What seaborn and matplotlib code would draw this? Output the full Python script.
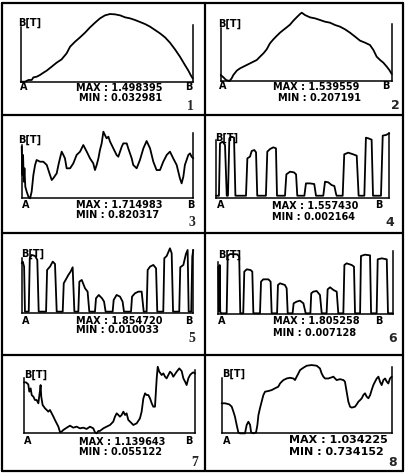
import numpy as np
import matplotlib
matplotlib.use("Agg")
import matplotlib.pyplot as plt
import seaborn as sns
from matplotlib.lines import Line2D

sns.set_style("white")
plt.rcParams["font.family"] = ["DejaVu Sans"]

# ---------------- data: position along A-B (%) and flux density B [T] ----------------
b_max = [1.498395, 1.539559, 1.714983, 1.557430, 1.854720, 1.805258, 1.139643, 1.034225]
b_min = [0.032981, 0.207191, 0.820317, 0.002164, 0.010033, 0.007128, 0.055122, 0.734152]
max_labels = ["MAX : 1.498395", "MAX : 1.539559", "MAX : 1.714983", "MAX : 1.557430",
              "MAX : 1.854720", "MAX : 1.805258", "MAX : 1.139643", "MAX : 1.034225"]
min_labels = ["MIN : 0.032981", "MIN : 0.207191", "MIN : 0.820317", "MIN : 0.002164",
              "MIN : 0.010033", "MIN : 0.007128", "MIN : 0.055122", "MIN : 0.734152"]
panel_numbers = ["1", "2", "3", "4", "5", "6", "7", "8"]

pos1 = [0, 2.5, 4.5, 6.4, 7.4, 9.3, 11.2, 13.2, 15.1, 18.0, 20.9, 23.8, 26.7, 28.7, 31.6, 34.5,
        37.4, 40.3, 43.2, 46.1, 49.0, 51.9, 54.8, 57.8, 60.7, 63.6, 66.5, 69.4, 72.3, 75.2, 78.1,
        81.0, 83.9, 86.8, 89.7, 92.6, 95.5, 97.5, 98.8, 100]
b1 = [0.033, 0.033, 0.070, 0.070, 0.127, 0.141, 0.178, 0.228, 0.272, 0.358, 0.445, 0.517, 0.647,
      0.790, 0.899, 0.993, 1.094, 1.209, 1.310, 1.404, 1.469, 1.498, 1.491, 1.469, 1.426, 1.404,
      1.368, 1.325, 1.281, 1.224, 1.152, 1.079, 0.993, 0.877, 0.733, 0.574, 0.393, 0.272, 0.178,
      0.105]

pos2 = [0, 1.6, 3.1, 5.1, 6.4, 7.4, 9.4, 11.3, 13.3, 15.2, 17.2, 19.1, 21.1, 23.0, 25.0, 26.9,
        28.8, 30.8, 32.7, 34.7, 36.6, 38.6, 40.5, 42.5, 44.4, 46.4, 47.4, 49.3, 52.2, 55.2, 58.1,
        61.0, 63.9, 66.9, 69.8, 72.7, 75.6, 78.6, 81.5, 84.4, 87.3, 89.3, 91.2, 93.2, 95.1, 97.1,
        98.6, 100]
b2 = [0.324, 0.279, 0.227, 0.207, 0.259, 0.324, 0.409, 0.454, 0.487, 0.519, 0.552, 0.584, 0.617,
      0.682, 0.747, 0.825, 0.942, 1.020, 1.085, 1.150, 1.202, 1.254, 1.306, 1.384, 1.449, 1.514,
      1.540, 1.494, 1.449, 1.429, 1.397, 1.364, 1.345, 1.299, 1.267, 1.215, 1.150, 1.072, 0.994,
      0.955, 0.909, 0.812, 0.682, 0.617, 0.565, 0.487, 0.422, 0.344]

pos3 = [0, 0.4, 0.8, 1.2, 1.6, 2.1, 2.9, 3.9, 4.9, 5.8, 6.8, 7.8, 8.7, 10.7, 12.6, 14.6, 16.5,
        17.5, 18.4, 20.4, 21.4, 22.3, 23.3, 24.3, 25.2, 26.2, 28.2, 30.1, 32.0, 34.0, 35.9, 36.9,
        37.9, 39.8, 41.7, 42.7, 43.7, 44.7, 45.6, 46.6, 47.6, 48.5, 49.5, 50.5, 51.5, 53.4, 55.3,
        56.3, 57.3, 58.3, 59.2, 61.2, 62.1, 64.1, 65.0, 67.0, 68.9, 70.9, 72.8, 74.8, 76.7, 78.6,
        80.6, 82.5, 84.5, 86.4, 88.3, 90.3, 92.2, 93.2, 94.2, 95.1, 97.1, 98.1, 99.0, 100]
b3 = [1.514, 1.133, 1.402, 1.044, 1.223, 0.977, 0.910, 0.842, 0.820, 0.910, 1.133, 1.268, 1.335,
      1.312, 1.312, 1.268, 1.133, 1.066, 1.089, 1.156, 1.268, 1.357, 1.447, 1.402, 1.357, 1.223,
      1.223, 1.290, 1.402, 1.447, 1.536, 1.491, 1.447, 1.357, 1.290, 1.200, 1.268, 1.357, 1.469,
      1.558, 1.715, 1.670, 1.626, 1.648, 1.581, 1.491, 1.402, 1.379, 1.447, 1.514, 1.558, 1.558,
      1.491, 1.357, 1.268, 1.223, 1.335, 1.491, 1.590, 1.491, 1.312, 1.200, 1.200, 1.312, 1.402,
      1.447, 1.357, 1.268, 1.089, 1.021, 1.111, 1.268, 1.402, 1.424, 1.379, 1.357]

pos4 = [0, 1.7, 2.3, 3.8, 5.2, 6.2, 6.9, 7.7, 9.0, 10.4, 11.2,
        17.3, 18.1, 19.6, 20.6, 22.1, 23.1, 23.8,
        28.8, 29.6, 31.2, 33.1, 34.6, 35.2,
        39.8, 40.6, 42.7, 45.0, 46.2, 46.9,
        51.0, 51.9, 54.2, 56.7, 57.7,
        61.9, 62.9, 64.8, 66.7, 68.3, 69.2, 69.6,
        73.1, 74.0, 76.3, 79.2, 81.2, 82.3,
        85.6, 86.5, 87.9, 89.8, 90.6,
        95.2, 96.2, 98.1, 100]
b4 = [0.05, 0.05, 1.315, 1.356, 1.275, 0.05, 0.05, 1.436, 1.476, 1.452, 0.05,
      0.05, 0.953, 0.993, 1.130, 1.154, 1.098, 0.05,
      0.05, 1.114, 1.178, 1.219, 1.194, 0.05,
      0.05, 0.566, 0.630, 0.614, 0.566, 0.05,
      0.05, 0.348, 0.348, 0.332, 0.05,
      0.05, 0.389, 0.373, 0.308, 0.284, 0.107, 0.05,
      0.05, 1.049, 1.090, 1.049, 1.017, 0.05,
      0.05, 1.452, 1.436, 1.404, 0.05,
      0.05, 1.501, 1.517, 1.557]

pos5 = [0, 0.6, 1.4, 1.9, 4.1, 4.7, 5.8, 7.8, 9.1, 9.9,
        14.2, 14.8, 16.5, 18.1, 19.4, 20.4,
        23.9, 24.5, 25.8, 27.2, 28.5, 29.7, 30.7,
        33.0, 33.6, 35.0, 36.9, 38.4, 39.4,
        42.7, 43.3, 44.9, 46.8, 48.0, 48.9,
        53.0, 53.6, 55.3, 57.3, 58.8, 59.6,
        63.7, 64.3, 66.0, 68.0, 69.9, 71.1,
        72.8, 73.4, 74.8, 76.7, 78.3, 79.0,
        82.5, 83.1, 84.5, 86.4, 87.4, 88.2,
        91.8, 92.4, 94.2, 95.7, 96.7, 97.3,
        98.8, 99.4, 100]
b5 = [1.429, 1.477, 1.335, 0.057, 0.057, 1.571, 1.666, 1.637, 1.524, 0.057,
      0.057, 1.240, 1.335, 1.477, 1.410, 0.057,
      0.057, 0.862, 0.975, 1.098, 1.193, 1.316, 0.057,
      0.057, 0.909, 0.956, 0.720, 0.625, 0.057,
      0.057, 0.436, 0.530, 0.436, 0.341, 0.057,
      0.057, 0.388, 0.530, 0.483, 0.341, 0.057,
      0.057, 0.483, 0.578, 0.625, 0.625, 0.057,
      0.057, 1.240, 1.335, 1.382, 1.287, 0.057,
      0.057, 1.571, 1.637, 1.855, 1.713, 0.057,
      0.057, 1.316, 1.382, 1.694, 1.808, 0.057,
      0.057, 1.619, 1.808]

pos6 = [0, 0.4, 0.8, 1.1, 1.7, 4.8, 5.4, 6.7, 10.9, 12.0, 12.6,
        14.3, 14.9, 16.3, 18.5, 19.5, 20.1,
        23.9, 24.5, 25.8, 28.7, 30.0, 30.6,
        33.7, 34.2, 35.4, 38.2, 39.2, 39.8,
        42.6, 43.2, 44.9, 46.8, 48.8, 50.1,
        52.8, 53.3, 54.5, 56.4, 58.3, 59.3,
        62.1, 62.7, 64.1, 66.0, 67.9, 68.8,
        71.7, 72.3, 73.6, 76.5, 77.8, 78.4,
        81.3, 81.8, 84.1, 87.0, 87.6,
        90.8, 91.4, 93.7, 96.6, 97.3, 100]
b6 = [1.428, 0.086, 1.477, 0.086, 0.037, 0.037, 1.746, 1.805, 1.795, 1.726, 0.037,
      0.037, 1.279, 1.348, 1.328, 1.279, 0.037,
      0.037, 0.981, 1.050, 1.050, 0.981, 0.037,
      0.037, 0.881, 0.931, 0.881, 0.782, 0.037,
      0.037, 0.335, 0.384, 0.414, 0.335, 0.037,
      0.037, 0.633, 0.683, 0.702, 0.583, 0.037,
      0.037, 0.752, 0.812, 0.732, 0.683, 0.037,
      0.037, 1.477, 1.527, 1.477, 1.428, 0.037,
      0.037, 1.746, 1.785, 1.765, 0.037,
      0.037, 1.646, 1.676, 1.646, 0.037, 0.037]

pos7 = [0, 1.2, 2.5, 3.1, 3.9, 4.5, 5.5, 6.4, 7.4, 8.4, 9.0, 9.4, 9.7, 10.1, 10.9, 12.3, 13.3,
        14.2, 15.2, 16.2, 17.2, 18.1, 19.1, 20.1, 21.1, 22.0, 23.0, 25.0, 26.9, 28.8, 30.8, 32.7,
        34.7, 36.6, 38.6, 40.5, 41.5, 42.5, 43.5, 44.4, 46.4, 48.3, 50.3, 52.2, 53.2, 54.2, 55.2,
        56.1, 57.1, 58.1, 59.1, 60.0, 61.0, 62.0, 63.0, 63.9, 65.9, 67.8, 68.8, 69.8, 70.8, 71.7,
        72.7, 73.7, 74.7, 75.6, 76.6, 77.6, 78.2, 79.1, 80.5, 81.5, 82.5, 83.4, 84.4, 85.4, 86.4,
        87.3, 89.3, 90.8, 92.2, 93.2, 94.2, 95.1, 96.1, 97.1, 98.1, 99.0, 100]
b7 = [0.876, 0.876, 0.844, 0.726, 0.779, 0.672, 0.645, 0.592, 0.592, 0.538, 0.672, 0.753, 0.833,
      0.645, 0.511, 0.457, 0.431, 0.404, 0.431, 0.377, 0.323, 0.270, 0.216, 0.162, 0.071, 0.082,
      0.109, 0.146, 0.178, 0.146, 0.162, 0.135, 0.146, 0.125, 0.162, 0.135, 0.071, 0.055, 0.093,
      0.093, 0.135, 0.162, 0.189, 0.243, 0.323, 0.377, 0.350, 0.323, 0.350, 0.404, 0.350, 0.377,
      0.270, 0.243, 0.216, 0.189, 0.216, 0.296, 0.404, 0.618, 0.699, 0.672, 0.672, 0.618, 0.538,
      0.484, 0.484, 0.940, 1.128, 1.048, 0.994, 1.021, 0.967, 0.940, 0.994, 1.048, 1.021, 0.967,
      1.048, 1.101, 1.058, 0.940, 0.887, 0.833, 0.940, 0.994, 1.021, 1.037, 1.021]

pos8 = [0, 2.0, 4.5, 5.9, 6.9, 7.8, 8.8, 9.8, 10.8, 13.7, 14.7, 15.7, 16.7, 17.3, 18.6, 20.2,
        21.0, 21.6, 22.5, 23.5, 24.5, 25.5, 27.5, 29.4, 31.4, 33.3, 34.3, 35.3, 36.3, 38.2, 40.2,
        42.2, 43.1, 44.1, 45.1, 46.1, 48.0, 50.0, 52.9, 55.9, 57.8, 58.8, 59.8, 60.8, 62.7, 64.7,
        65.7, 66.7, 67.6, 69.6, 71.6, 72.5, 73.5, 74.5, 75.5, 76.5, 78.4, 79.4, 80.4, 81.4, 82.4,
        83.3, 84.3, 85.3, 86.3, 87.3, 88.2, 89.2, 90.2, 91.2, 92.2, 93.1, 94.1, 95.1, 96.1, 97.1,
        98.0, 99.0, 100]
b8 = [0.866, 0.866, 0.861, 0.851, 0.829, 0.807, 0.771, 0.738, 0.734, 0.734, 0.771, 0.785, 0.771,
      0.738, 0.734, 0.738, 0.771, 0.814, 0.844, 0.873, 0.902, 0.917, 0.920, 0.924, 0.932, 0.939,
      0.953, 0.961, 0.968, 0.975, 0.978, 0.975, 0.968, 0.983, 0.997, 1.012, 1.022, 1.031, 1.034,
      1.031, 1.019, 0.997, 0.983, 0.975, 0.975, 0.980, 0.983, 0.975, 0.968, 0.972, 0.968, 0.961,
      0.917, 0.873, 0.851, 0.847, 0.851, 0.861, 0.873, 0.880, 0.888, 0.902, 0.910, 0.895, 0.888,
      0.902, 0.924, 0.946, 0.961, 0.975, 0.983, 0.961, 0.946, 0.968, 0.975, 0.961, 0.953, 0.975,
      0.983]

positions = [pos1, pos2, pos3, pos4, pos5, pos6, pos7, pos8]
fields = [b1, b2, b3, b4, b5, b6, b7, b8]

# ---------------- layout (pixels of a 406x474 canvas) ----------------
W, H = 406, 474
axes_px = [(20.7, 192.7, 14, 81.7), (220.7, 391.7, 12.7, 81),
           (21.7, 193.3, 131.7, 198.3), (216, 389.3, 133.3, 197.7),
           (21.7, 193.3, 248.3, 313.3), (218.3, 392.7, 254, 314.3),
           (24, 195, 366, 433.3), (221.7, 391.7, 365, 433.3)]
spine_frac = [(0.81, 0.84), (0.78, 0.83), (0.80, 0.98), (0.90, 1.0),
              (0.85, 0.97), (0.87, 1.05), (0.82, 0.94), (0.81, 0.97)]
txt_px = [
    ((18, 23), (20, 87), (185, 87), (76, 88), (79, 98), (190, 107)),
    ((218, 24), (219, 86), (382, 86), (273, 87), (278, 98), (395, 106)),
    ((18, 140), (22, 205), (187, 205), (76, 205), (76, 215), (192, 222)),
    ((215, 138), (217, 205), (375, 205), (272, 206), (272, 217), (390, 222)),
    ((21, 254), (22, 321), (185, 321), (76, 321), (76, 330), (192, 338)),
    ((218, 255), (218, 321), (375, 321), (273, 321), (273, 333), (393, 338)),
    ((24, 375), (24, 441), (185, 441), (79, 442), (79, 452), (195, 463)),
    ((222, 374), (223, 441), None, (289, 440), (289, 452), (393, 462)),
]
label_size = [7, 7, 7, 7, 7, 7, 7, 8]

fig = plt.figure(figsize=(W / 100, H / 100), dpi=100)
fig.patch.set_facecolor("white")


def fx(x):
    return x / W


def fy(y):
    return 1 - y / H


for i in range(8):
    l, r, t, b = axes_px[i]
    ax = fig.add_axes([fx(l), fy(b), (r - l) / W, (b - t) / H])
    sns.lineplot(x=positions[i], y=fields[i], ax=ax, color="black", linewidth=1.3,
                 estimator=None, sort=False, clip_on=False)
    ax.set_xlim(0, 100)
    ax.set_ylim(b_min[i], b_max[i])
    ax.set_xticks([])
    ax.set_yticks([])
    ax.set_xlabel("")
    ax.set_ylabel("")
    ax.patch.set_alpha(0)
    rng = b_max[i] - b_min[i]
    for side in ["left", "right", "bottom"]:
        ax.spines[side].set_visible(True)
        ax.spines[side].set_color("black")
        ax.spines[side].set_linewidth(1.1)
    ax.spines["top"].set_visible(False)
    ax.spines["left"].set_bounds(b_min[i], b_min[i] + spine_frac[i][0] * rng)
    ax.spines["right"].set_bounds(b_min[i], b_min[i] + spine_frac[i][1] * rng)

    tb, ta, tbb, tmax, tmin, tnum = txt_px[i]
    bold = dict(fontweight="bold", color="black", va="center", ha="left")
    fig.text(fx(tb[0]), fy(tb[1]), "B[T]", fontsize=7, **bold)
    fig.text(fx(ta[0]), fy(ta[1]), "A", fontsize=7, **bold)
    if tbb is not None:
        fig.text(fx(tbb[0]), fy(tbb[1]), "B", fontsize=7, **bold)
    fig.text(fx(tmax[0]), fy(tmax[1]), max_labels[i], fontsize=label_size[i], **bold)
    fig.text(fx(tmin[0]), fy(tmin[1]), min_labels[i], fontsize=label_size[i], **bold)
    if i % 2 == 0:
        fig.text(fx(tnum[0]), fy(tnum[1]), panel_numbers[i], fontsize=10,
                 family="Liberation Serif", fontweight="bold", ha="center", va="center")
    else:
        fig.text(fx(tnum[0]), fy(tnum[1]), panel_numbers[i], fontsize=9,
                 fontweight="bold", ha="center", va="center")

# cell frame lines
frame_kw = dict(color="black", linewidth=1.6, transform=fig.transFigure)
x0, x1, xm = 2.5, 403, 205
y0, y1 = 3, 471
for yy in [y0, 115, 233, 355, y1]:
    fig.add_artist(Line2D([fx(x0), fx(x1)], [fy(yy), fy(yy)], **frame_kw))
for xx in [x0, xm, x1]:
    fig.add_artist(Line2D([fx(xx), fx(xx)], [fy(y0), fy(y1)], **frame_kw))

fig.savefig("out.png", dpi=100, facecolor="white")
